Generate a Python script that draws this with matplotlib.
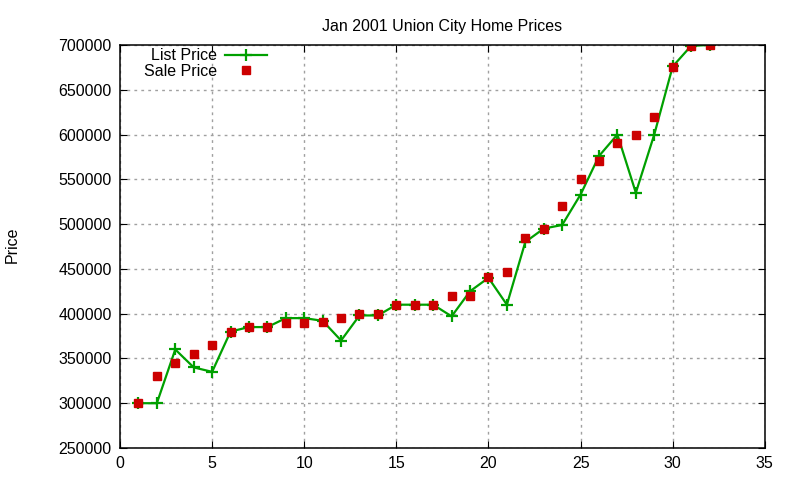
import numpy as np
import matplotlib
matplotlib.use('Agg')
import matplotlib.pyplot as plt

plt.rcParams['font.family'] = ['Liberation Sans', 'DejaVu Sans']

# данные: номер дома и цены
house = list(range(1, 33))
list_price = [300000, 300000, 360000, 340000, 335000, 380000, 385000, 385000,
              395000, 395000, 392000, 370000, 398000, 398000, 410000, 410000,
              410000, 397000, 425000, 440000, 410000, 480000, 495000, 499000,
              533000, 576000, 600000, 535000, 600000, 676000, 699000, 700000]
sale_price = [300000, 330000, 345000, 355000, 365000, 380000, 385000, 385000,
              390000, 390000, 391000, 395000, 400000, 400000, 410000, 410000,
              410000, 420000, 420000, 441000, 446000, 485000, 495000, 520000,
              550000, 570000, 590000, 600000, 620000, 675000, 699000, 700000]

x_ticks = list(range(0, 36, 5))
y_ticks = list(range(250000, 700001, 50000))

fig = plt.figure(figsize=(8, 4.8), dpi=100)
ax = fig.add_axes([0.15, 0.0667, 0.806, 0.8396])

ax.plot(house, list_price, color='#00a000', linewidth=1.6, marker='+',
        markersize=8, markeredgewidth=1.6, label='List Price')
ax.plot(house, sale_price, linestyle='none', color='#cc0000', marker='s',
        markersize=6, label='Sale Price')

ax.set_xlim(0, 35)
ax.set_ylim(250000, 700000)
ax.set_xticks(x_ticks)
ax.set_yticks(y_ticks)
ax.tick_params(direction='in', top=True, right=True, labelsize=11.5, length=5, pad=6)
ax.grid(True, color='#a0a0a0', linestyle=(0, (2, 3)), linewidth=1)
for s in ax.spines.values():
    s.set_linewidth(1.1)

ax.set_title('Jan 2001 Union City Home Prices', fontsize=11.5, pad=10)
fig.text(0.015, 0.49, 'Price', rotation=90, fontsize=11.5, va='center', ha='center')

ax.legend(loc='upper left', bbox_to_anchor=(0.02, 1.02), frameon=False, markerfirst=False,
          fontsize=11.5, handlelength=2.6, labelspacing=0.05, borderaxespad=0.3,
          handletextpad=0.5)

fig.savefig('out.png', dpi=100)
